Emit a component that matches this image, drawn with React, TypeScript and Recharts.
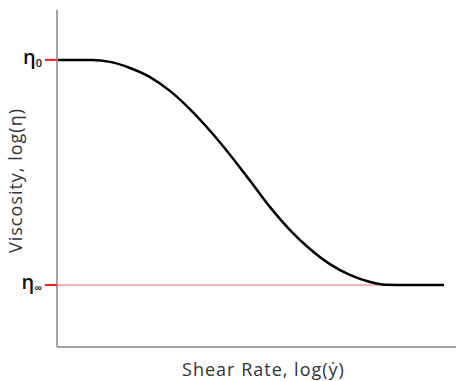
// @ts-nocheck
import React from "react";
import {
  LineChart,
  Line,
  XAxis,
  YAxis,
  ReferenceLine,
  Label,
} from "recharts";

// log(shear rate) vs log(viscosity), arbitrary units
const shearRate = [0, 0.88, 1.33, 1.83, 2.33, 2.83, 3.33, 3.84, 4.34, 4.84, 5.34, 5.84, 6.34, 6.84, 7.34, 7.85, 8.22, 8.85, 9.7];
const viscosity = [8.52, 8.52, 8.46, 8.28, 8.01, 7.6, 7.06, 6.41, 5.7, 4.93, 4.15, 3.47, 2.91, 2.46, 2.14, 1.93, 1.85, 1.84, 1.84];

const etaZero = 8.52;
const etaInf = 1.84;
const etaInfEnd = 8.22;
const tickValues = [etaInf, etaZero];
const tickLabels = [["η", "∞"], ["η", "0"]];

const data = shearRate.map((x, i) => ({ x, y: viscosity[i] }));

const font = "'Open Sans', sans-serif";

const EtaTick = ({ x, y, payload }: any) => {
  const idx = tickValues.indexOf(payload.value);
  const [main, sub] = tickLabels[idx] || ["", ""];
  return (
    <text x={x + 1} y={y} textAnchor="end" fontFamily={font} fill="#111" dy={4}>
      <tspan fontSize={20} fontWeight={600}>{main}</tspan>
      <tspan fontSize={11} fontWeight={600} dy={3}>{sub}</tspan>
    </text>
  );
};

export default function App() {
  return (
    <div style={{ position: "absolute", left: 0, top: 0, background: "#fff" }}>
      <LineChart
        width={460}
        height={381}
        data={data}
        margin={{ top: 10, right: 4, left: 0, bottom: 0 }}
      >
        <XAxis
          dataKey="x"
          type="number"
          domain={[0, 10]}
          ticks={[]}
          tick={false}
          tickLine={false}
          height={34}
          axisLine={{ stroke: "#a3a3a3", strokeWidth: 2 }}
        >
          <Label
            value="Shear Rate, log(ẏ)"
            position="insideBottom"
            offset={5}
            dx={7}
            style={{ fontFamily: font, fontSize: 18, letterSpacing: 1, fill: "#333" }}
          />
        </XAxis>
        <YAxis
          type="number"
          domain={[0, 10]}
          ticks={tickValues}
          width={57}
          tickSize={12}
          tickMargin={4}
          tick={<EtaTick />}
          tickLine={{ stroke: "#ff1a1a", strokeWidth: 2 }}
          axisLine={{ stroke: "#a3a3a3", strokeWidth: 2 }}
        >
          <Label
            value="Viscosity, log(η)"
            angle={-90}
            position="insideLeft"
            offset={16}
            dy={2}
            style={{ fontFamily: font, fontSize: 18, letterSpacing: 1, fill: "#333", textAnchor: "middle" }}
          />
        </YAxis>
        <ReferenceLine
          segment={[{ x: 0, y: etaInf }, { x: etaInfEnd, y: etaInf }]}
          stroke="#ffb5b5"
          strokeWidth={2}
        />
        <Line
          type="monotone"
          dataKey="y"
          stroke="#000"
          strokeWidth={2.5}
          dot={false}
          isAnimationActive={false}
        />
      </LineChart>
    </div>
  );
}
